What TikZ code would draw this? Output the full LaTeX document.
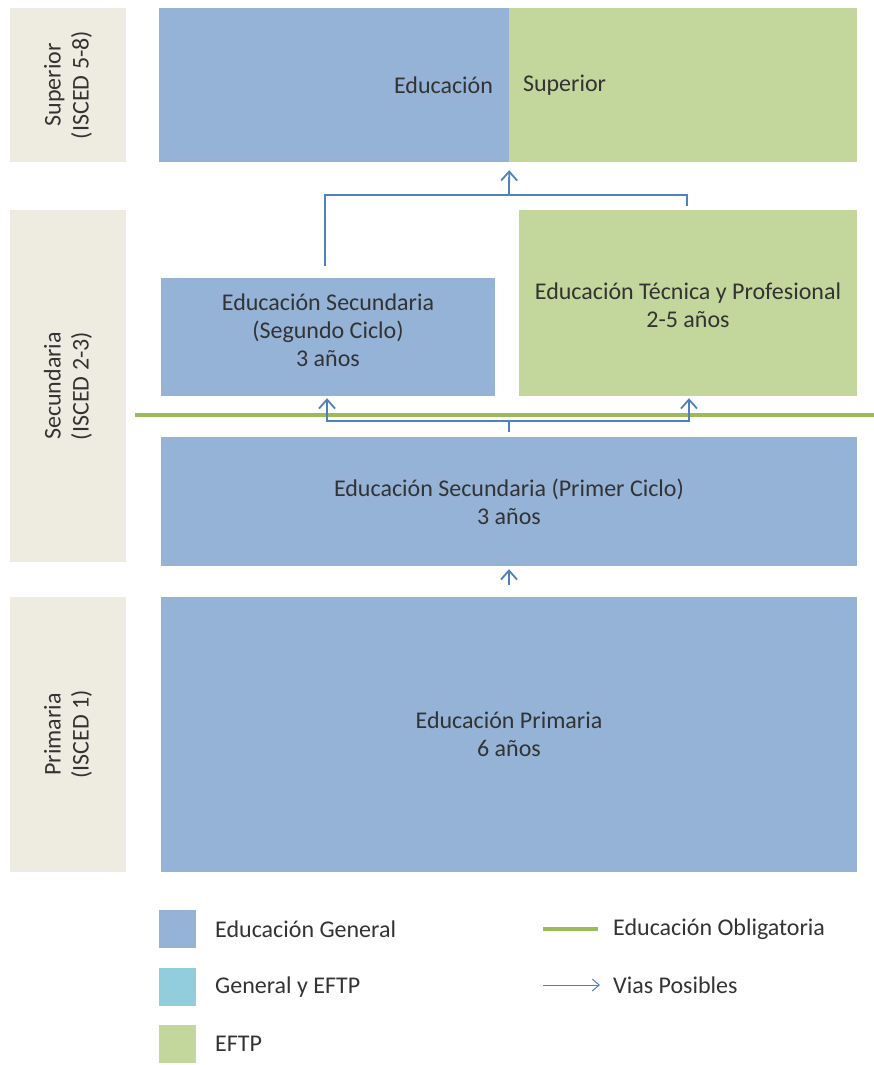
\documentclass[tikz,border=0pt]{standalone}
\usepackage{fontspec}
\setmainfont{Carlito}
\usetikzlibrary{arrows.meta}

\definecolor{genblue}{HTML}{95B3D7}
\definecolor{eftpgreen}{HTML}{C3D69B}
\definecolor{oblgreen}{HTML}{9BBB59}
\definecolor{pathblue}{HTML}{4F81BD}
\definecolor{levelgray}{HTML}{EEECE1}
\definecolor{mixblue}{HTML}{92CDDC}

\tikzset{
  stage/.style={fill=#1, inner sep=0pt, align=center, text=black!80},
  level/.style={fill=levelgray, inner sep=0pt, align=center, rotate=90, text=black!80},
  via/.style={pathblue, line width=1.8pt, -{Straight Barb[length=9pt,width=16pt]}},
  bracket/.style={pathblue, line width=1.8pt},
  legtext/.style={anchor=west, inner sep=0pt, text=black!80},
}

\begin{document}
\begin{tikzpicture}[x=1pt, y=-1pt, font=\fontsize{24}{28}\selectfont]
  \useasboundingbox (0,0) rectangle (874,1065);

  % Levels
  \node[level, minimum width=154, minimum height=116] (lsup) at (68,85) {Superior\\(ISCED 5-8)};
  \node[level, minimum width=352, minimum height=116] (lsec) at (68,386) {Secundaria\\(ISCED 2-3)};
  \node[level, minimum width=275, minimum height=116] (lpri) at (68,734.5) {Primaria\\(ISCED 1)};

  % Stages
  \node[stage=genblue, minimum width=350, minimum height=154] (supa) at (334,85) {};
  \node[stage=eftpgreen, minimum width=348, minimum height=154] (supb) at (683,85) {};
  \node[anchor=east, inner sep=0pt, text=black!80] (supta) at ([xshift=-16pt]supa.east) {Educación};
  \node[anchor=west, inner sep=0pt, text=black!80] (suptb) at ([xshift=14pt]supb.west) {Superior};

  \node[stage=genblue, minimum width=334, minimum height=118] (seg) at (328,337) {};
  \node[align=center, text=black!80, inner sep=0pt] (segt) at (328,330) {Educación Secundaria\\(Segundo Ciclo)\\3 años};
  \node[stage=eftpgreen, minimum width=338, minimum height=186] (tec) at (688,303) {};
  \node[align=center, text=black!80, inner sep=0pt] (tect) at (688,305) {Educación Técnica y Profesional\\2-5 años};

  \node[stage=genblue, minimum width=696, minimum height=129] (prim1) at (509,501.5) {Educación Secundaria (Primer Ciclo)\\3 años};
  \node[stage=genblue, minimum width=696, minimum height=275] (prima) at (509,734.5) {Educación Primaria\\6 años};

  % Compulsory line
  \coordinate (obla) at (135,415);
  \coordinate (oblb) at (874,415);
  \draw[oblgreen, line width=4.5pt] (obla) -- (oblb);

  % Paths
  \coordinate (tl) at (325,195);
  \coordinate (tr) at (687,195);
  \coordinate (tm) at (509,195);
  \draw[bracket] ([yshift=12pt]seg.north -| tl) -- (tl) -- (tr) -- ([yshift=4pt]tec.north -| tr);
  \draw[via] (tm) -- ([yshift=-8pt]supa.south east);

  \coordinate (ml) at (327,421);
  \coordinate (mr) at (689,421);
  \coordinate (mm) at (509,421);
  \draw[bracket] ([yshift=5pt]prim1.north -| mm) -- (mm);
  \draw[via] (mm) -- (ml) -- ([yshift=-2pt]seg.south -| ml);
  \draw[via] (mm) -- (mr) -- ([yshift=-2pt]tec.south -| mr);
  \draw[via] ([yshift=-19pt]prim1.south) -- ([yshift=-3pt]prim1.south);

  % Legend
  \node[fill=genblue, minimum width=37, minimum height=38, inner sep=0pt] (kgen) at (177.5,929) {};
  \node[fill=mixblue, minimum width=37, minimum height=38, inner sep=0pt] (kmix) at (177.5,987) {};
  \node[fill=eftpgreen, minimum width=37, minimum height=38, inner sep=0pt] (keftp) at (177.5,1044) {};
  \node[legtext] (tgen) at (215,929) {Educación General};
  \node[legtext] (tmix) at (215,987) {General y EFTP};
  \node[legtext] (teftp) at (215,1044) {EFTP};

  \coordinate (koa) at (543,929);
  \coordinate (kob) at (598,929);
  \draw[oblgreen, line width=4.5pt] (koa) -- (kob);
  \node[legtext] (tobl) at (613,929) {Educación Obligatoria};
  \coordinate (kva) at (543,985);
  \coordinate (kvb) at (600,985);
  \draw[pathblue, line width=1pt, -{Straight Barb[length=7pt,width=12pt]}] (kva) -- (kvb);
  \node[legtext] (tvia) at (613,985) {Vias Posibles};
\end{tikzpicture}
\end{document}
